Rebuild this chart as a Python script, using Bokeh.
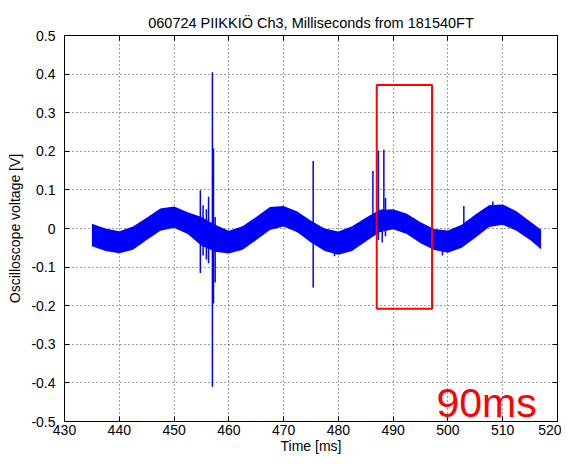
from bokeh.plotting import figure
from bokeh.models import Range1d, FixedTicker, LinearAxis, Label
from bokeh.embed import file_html
from bokeh.resources import INLINE

# ---- data ----
title_text = "060724 PIIKKIÖ Ch3, Milliseconds from 181540FT"
x_ticks = [430, 440, 450, 460, 470, 480, 490, 500, 510, 520]
x_tick_labels = ["430", "440", "450", "460", "470", "480", "490", "500", "510", "520"]
y_ticks = [-0.5, -0.4, -0.3, -0.2, -0.1, 0.0, 0.1, 0.2, 0.3, 0.4, 0.5]
y_tick_labels = ["-0.5", "-0.4", "-0.3", "-0.2", "-0.1", "0", "0.1", "0.2", "0.3", "0.4", "0.5"]

# envelope of the noisy signal band (ms, V)
band_x = [435, 437.5, 440, 442.5, 445, 447.5, 450, 452.5, 455, 457.5, 460, 462.5,
          465, 467.5, 470, 472.5, 475, 477.5, 480, 482.5, 485, 487.5, 490, 492.5,
          495, 497.5, 500, 502.5, 505, 507.5, 510, 512.5, 515, 517]
band_upper = [0.012, 0.000, -0.007, 0.005, 0.028, 0.052, 0.057, 0.042, 0.030, 0.010,
              -0.006, 0.006, 0.030, 0.056, 0.058, 0.044, 0.020, 0.000, -0.008, 0.006,
              0.028, 0.048, 0.050, 0.038, 0.016, -0.001, -0.005, 0.010, 0.036, 0.060,
              0.062, 0.045, 0.018, -0.003]
band_lower = [-0.046, -0.058, -0.064, -0.055, -0.030, -0.006, 0.002, -0.014, -0.045, -0.060,
              -0.065, -0.055, -0.030, -0.004, 0.005, -0.010, -0.036, -0.058, -0.068, -0.058,
              -0.034, -0.010, -0.002, -0.014, -0.038, -0.056, -0.063, -0.050, -0.024, 0.004,
              0.010, -0.006, -0.030, -0.054]

# individual spikes (ms, min V, max V)
spike_x = [454.8, 455.3, 455.9, 456.3, 457.0, 457.2, 457.5, 475.4, 479.3, 486.3,
           487.3, 488.0, 488.3, 488.6, 499.0, 502.9, 508.2]
spike_lo = [-0.115, -0.070, -0.080, -0.090, -0.410, -0.194, -0.140, -0.153, -0.072, -0.013,
            -0.030, -0.036, 0.000, -0.020, -0.070, 0.000, 0.010]
spike_hi = [0.099, 0.060, 0.050, 0.082, 0.405, 0.207, 0.030, 0.175, -0.010, 0.149,
            0.202, 0.050, 0.204, 0.079, -0.040, 0.058, 0.070]

# red marker box and annotation
box_left = [487.0]
box_right = [497.1]
box_bottom = [-0.208]
box_top = [0.372]
note_text = "90ms"
note_x = 497.9
note_y = -0.452

FONT = "Liberation Sans"

p = figure(width=561, height=456,
           x_range=Range1d(430, 520), y_range=Range1d(-0.5, 0.5),
           output_backend="svg", toolbar_location=None,
           title=title_text,
           min_border_left=64, min_border_right=4,
           min_border_top=35, min_border_bottom=35,
           background_fill_color="white", border_fill_color="white")

p.title.align = "center"
p.title.text_font = FONT
p.title.text_font_size = "14.5px"
p.title.text_font_style = "normal"
p.title.text_color = "black"
p.title.standoff = 10

p.outline_line_color = "black"
p.outline_line_width = 1
p.outline_line_alpha = 1

xt = FixedTicker(ticks=x_ticks)
yt = FixedTicker(ticks=y_ticks)
p.xaxis.ticker = xt
p.yaxis.ticker = yt
p.xaxis.major_label_overrides = {t: l for t, l in zip(x_ticks, x_tick_labels)}
p.yaxis.major_label_overrides = {t: l for t, l in zip(y_ticks, y_tick_labels)}

for ax in (p.xaxis[0], p.yaxis[0]):
    ax.axis_line_color = "black"
    ax.major_tick_line_color = "black"
    ax.major_tick_in = 5
    ax.major_tick_out = 0
    ax.minor_tick_line_color = None
    ax.major_label_text_font = FONT
    ax.major_label_text_font_size = "14px"
    ax.major_label_text_color = "black"
    ax.axis_label_text_font = FONT
    ax.axis_label_text_font_size = "14px"
    ax.axis_label_text_font_style = "normal"
    ax.axis_label_text_color = "black"

p.xaxis.axis_label = "Time [ms]"
p.yaxis.axis_label = "Oscilloscope voltage [V]"
p.xaxis.major_label_standoff = 3
p.xaxis.axis_label_standoff = 0
p.yaxis.major_label_standoff = 9
p.yaxis.axis_label_standoff = 5

for loc, tk in (("above", x_ticks), ("right", y_ticks)):
    ax = LinearAxis(ticker=FixedTicker(ticks=tk))
    ax.axis_line_color = "black"
    ax.major_tick_line_color = "black"
    ax.major_tick_in = 5
    ax.major_tick_out = 0
    ax.minor_tick_line_color = None
    ax.major_label_text_font_size = "0px"
    ax.major_label_text_color = None
    ax.major_label_standoff = 0
    p.add_layout(ax, loc)

for g in (p.xgrid[0], p.ygrid[0]):
    g.grid_line_color = "black"
    g.grid_line_dash = "1 3"
    g.grid_line_width = 1
    g.grid_line_alpha = 0.75
p.xgrid.ticker = xt
p.ygrid.ticker = yt

# signal band
p.varea(x=band_x, y1=band_lower, y2=band_upper, fill_color="#0000FF", fill_alpha=1)
# spikes
p.segment(x0=spike_x, y0=spike_lo, x1=spike_x, y1=spike_hi,
          line_color="#0000FF", line_width=1.5)

# red box
p.quad(left=box_left, right=box_right, bottom=box_bottom, top=box_top,
       fill_color=None, line_color="#FF0000", line_width=2)

p.add_layout(Label(x=note_x, y=note_y, text=note_text, text_font=FONT,
                   text_font_size="41px", text_color="#FF0000",
                   text_baseline="alphabetic", text_align="left"))

open("out.html", "w").write(file_html(p, INLINE))
